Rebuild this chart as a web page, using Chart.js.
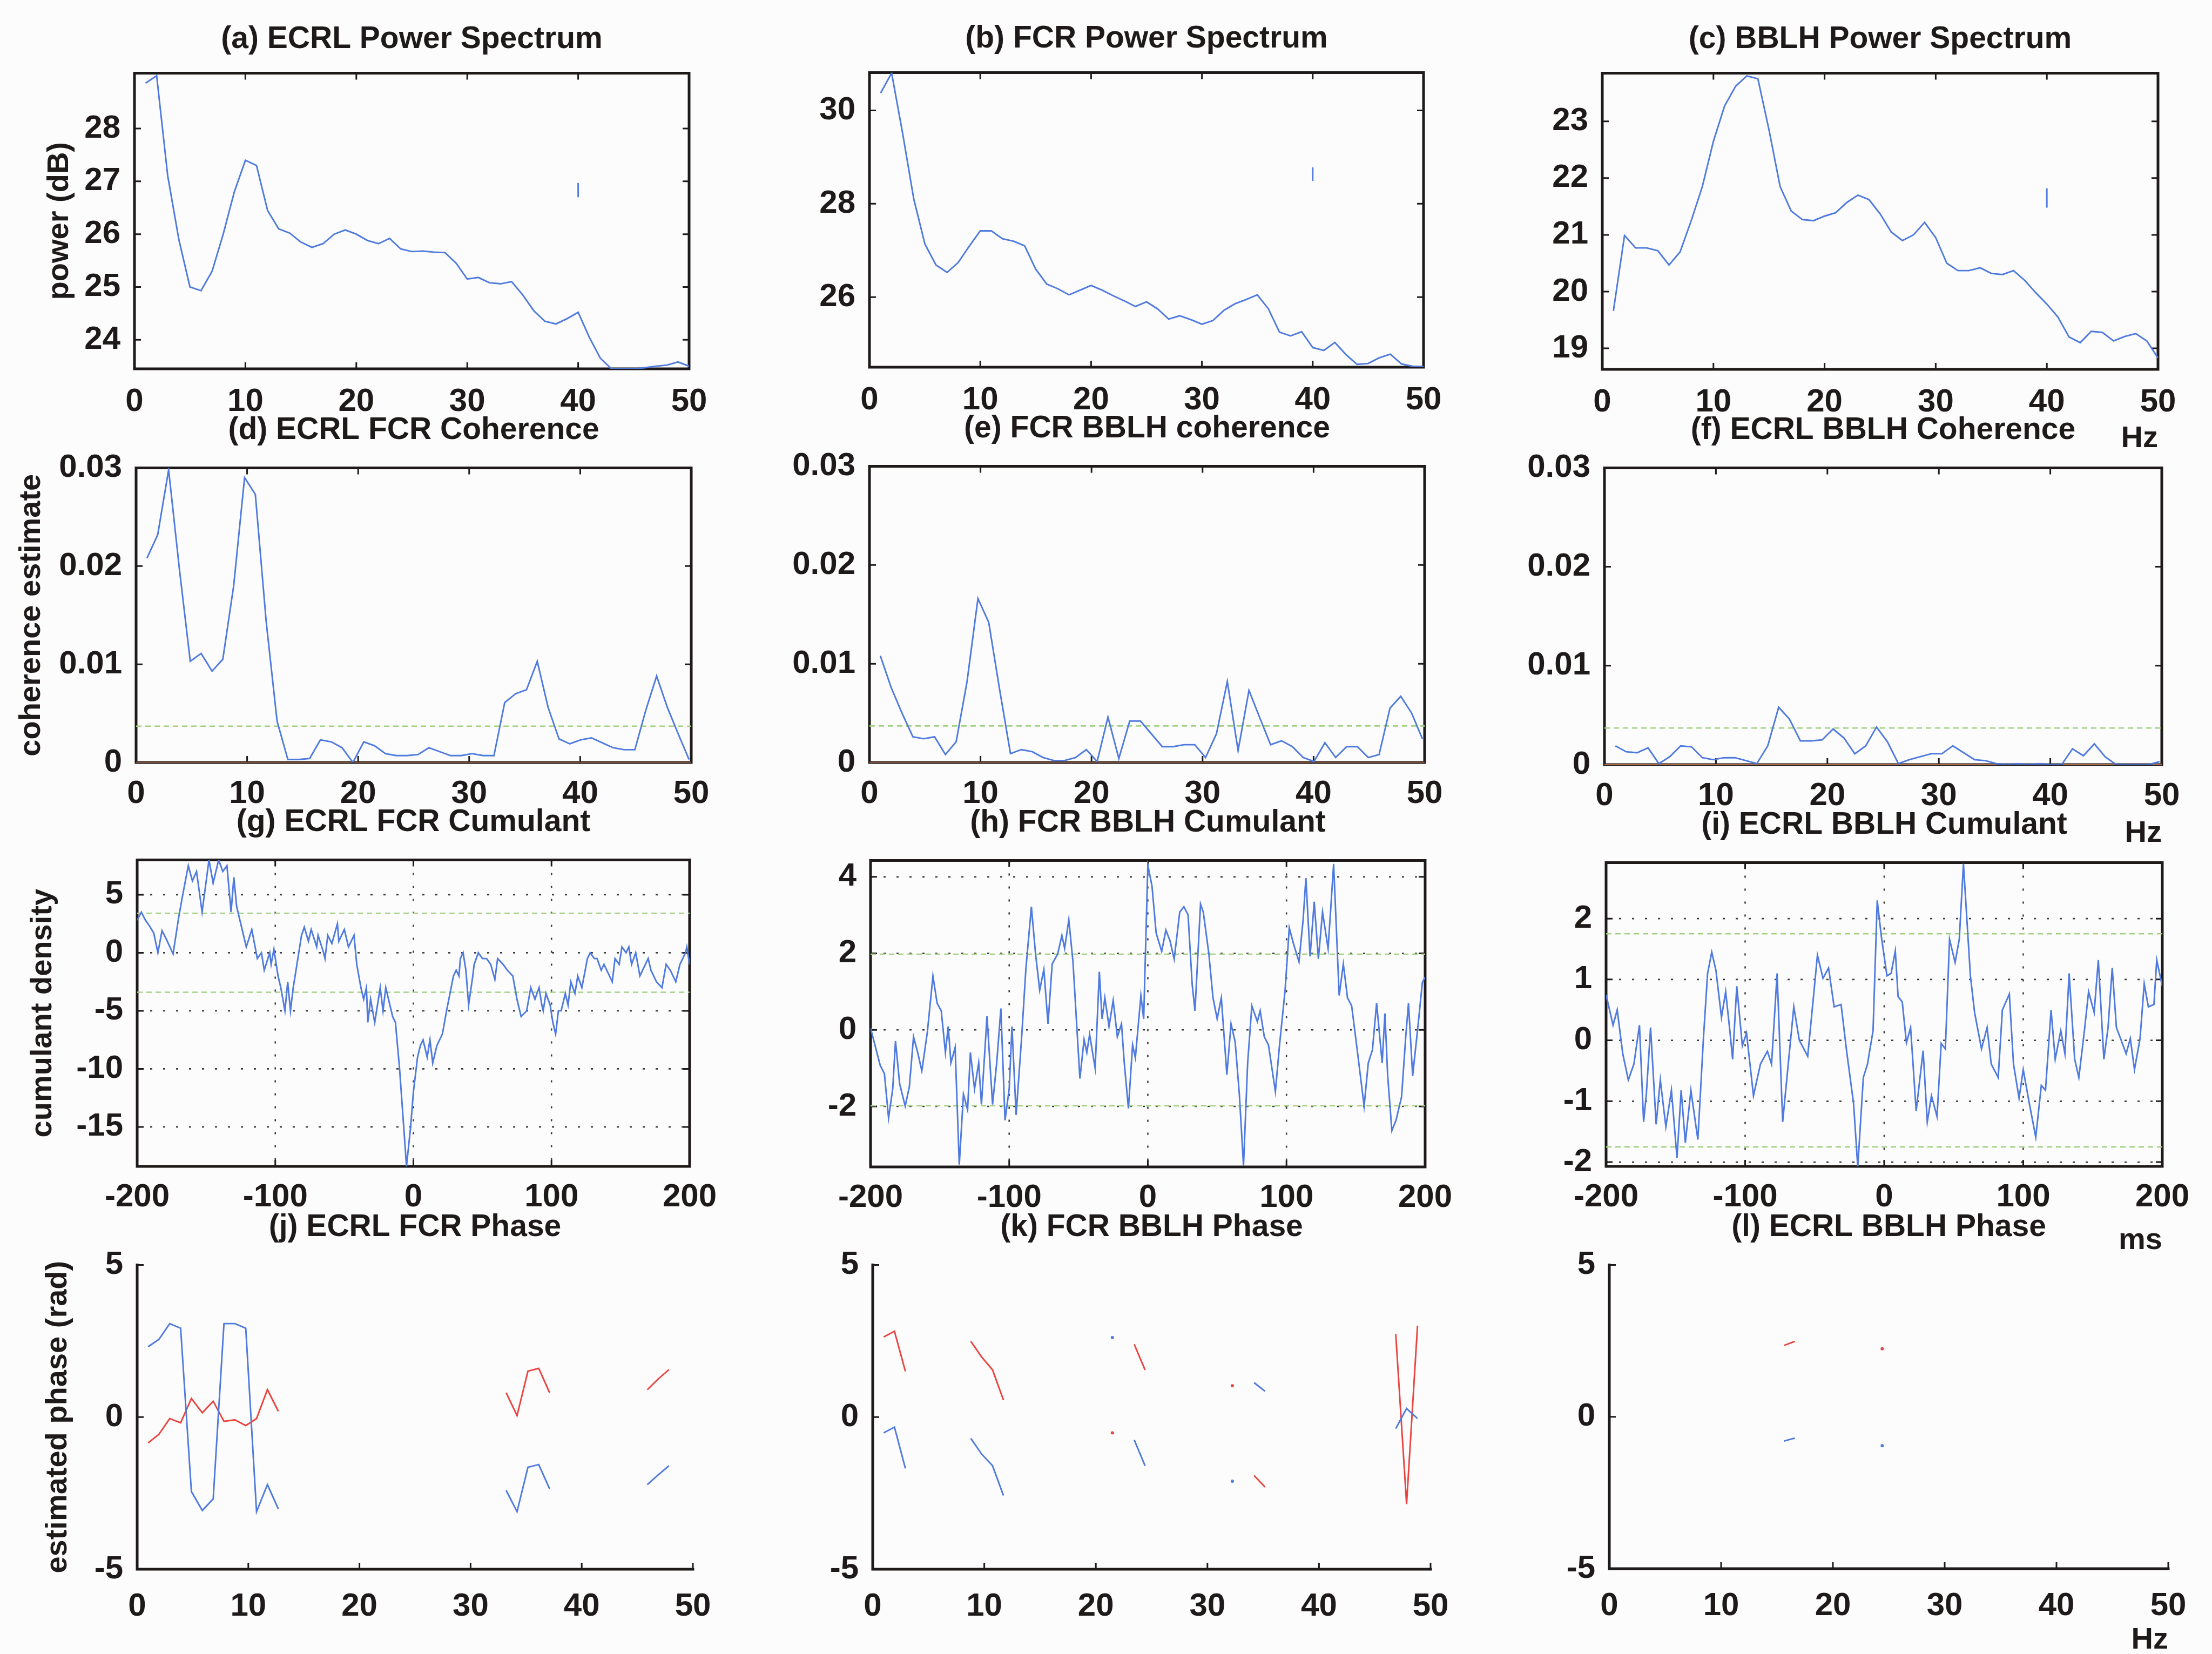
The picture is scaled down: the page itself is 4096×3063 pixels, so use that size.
<!DOCTYPE html>
<html>
<head>
<meta charset="utf-8">
<script src="https://cdn.jsdelivr.net/npm/chart.js@4.4.1/dist/chart.umd.min.js"></script>
<style>
html, body { margin: 0; padding: 0; background: #fcfcfc; }
#page { position: relative; width: 4096px; height: 3063px; overflow: hidden; background: #fcfcfc; }
canvas { position: absolute; }
</style>
</head>
<body>
<div id="page"></div>
<script>
// ---------- data ----------
const _ = null;

// spectra, 1 Hz steps
const specHz = [1,2,3,4,5,6,7,8,9,10,11,12,13,14,15,16,17,18,19,20,21,22,23,24,25,26,27,28,29,30,
                31,32,33,34,35,36,37,38,39,40,41,42,43,44,45,46,47,48,49,50];
const aPower = [28.86,29.0,27.1,25.9,25.0,24.93,25.3,26.0,26.8,27.4,27.3,26.45,26.1,26.02,25.85,25.75,25.82,26.0,26.08,26.0,
                25.88,25.82,25.92,25.72,25.67,25.68,25.66,25.65,25.45,25.15,25.18,25.08,25.06,25.1,24.85,24.55,24.35,24.3,24.4,24.52,
                24.05,23.65,23.45,23.45,23.45,23.47,23.5,23.52,23.58,23.5];
const bPower = [30.37,30.8,29.5,28.1,27.14,26.69,26.53,26.74,27.09,27.42,27.42,27.25,27.2,27.1,26.6,26.28,26.18,26.05,26.15,26.25,
                26.15,26.03,25.92,25.8,25.9,25.75,25.53,25.6,25.52,25.42,25.5,25.72,25.86,25.95,26.05,25.75,25.25,25.17,25.26,24.92,
                24.86,25.03,24.77,24.56,24.58,24.7,24.78,24.57,24.52,24.51];
const cPower = [19.66,20.99,20.77,20.77,20.72,20.47,20.7,21.25,21.85,22.65,23.27,23.62,23.8,23.75,22.85,21.85,21.42,21.27,21.25,21.33,
                21.39,21.57,21.7,21.62,21.37,21.05,20.9,21.0,21.22,20.95,20.5,20.37,20.37,20.42,20.32,20.3,20.37,20.2,19.98,19.78,
                19.55,19.2,19.1,19.3,19.28,19.13,19.21,19.26,19.13,18.83];
// small confidence markers at 40 Hz
const markHz = [40, 40];
const aMark = [26.7, 26.97];
const bMark = [28.49, 28.78];
const cMark = [21.48, 21.82];

// coherence and phase, frequency bins
const binHz = [0.98,1.95,2.93,3.91,4.88,5.86,6.84,7.81,8.79,9.77,10.74,11.72,12.70,13.67,14.65,15.63,16.60,17.58,18.55,19.53,
               20.51,21.48,22.46,23.44,24.41,25.39,26.37,27.34,28.32,29.30,30.27,31.25,32.23,33.20,34.18,35.16,36.13,37.11,38.09,39.06,
               40.04,41.02,41.99,42.97,43.95,44.92,45.90,46.88,47.85,48.83,49.80];
const dCoh = [0.0208,0.0232,0.0298,0.0196,0.0103,0.0111,0.0093,0.0105,0.0180,0.0290,0.0273,0.0143,0.0042,0.0003,0.0003,0.0004,0.0023,0.0021,0.0015,0.0000,
              0.0021,0.0017,0.0009,0.0007,0.0007,0.0008,0.0015,0.0011,0.0007,0.0007,0.0009,0.0007,0.0007,0.0061,0.0070,0.0074,0.0103,0.0056,0.0024,0.0019,
              0.0023,0.0025,0.0020,0.0015,0.0013,0.0013,0.0053,0.0088,0.0056,0.0029,0.0003];
const eCoh = [0.0108,0.0076,0.0050,0.0026,0.0024,0.0026,0.0008,0.0021,0.0082,0.0166,0.0142,0.0074,0.0009,0.0013,0.0011,0.0005,0.0002,0.0002,0.0005,0.0013,
              0.0001,0.0046,0.0004,0.0042,0.0042,0.0029,0.0016,0.0016,0.0018,0.0018,0.0005,0.0029,0.0082,0.0012,0.0073,0.0045,0.0018,0.0022,0.0016,0.0005,
              0.0001,0.0020,0.0005,0.0016,0.0016,0.0005,0.0008,0.0055,0.0067,0.0050,0.0024];
const fCoh = [0.0019,0.0013,0.0012,0.0017,0.0001,0.0008,0.0019,0.0018,0.0007,0.0005,0.0007,0.0007,0.0004,0.0001,0.0019,0.0058,0.0046,0.0024,0.0024,0.0025,
              0.0036,0.0027,0.0011,0.0019,0.0038,0.0023,0.0001,0.0005,0.0008,0.0011,0.0011,0.0019,0.0012,0.0005,0.0004,0.0001,0.0000,0.0001,0.0000,0.0001,
              0.0000,0.0000,0.0016,0.0009,0.0021,0.0008,0.0000,0.0000,0.0000,0.0000,0.0003];
const cohCI = 0.0037;
const cohZero = 0;

const jBlue = [2.31,2.55,3.07,2.92,-2.45,-3.07,-2.69,3.07,3.07,2.92,-3.11,-2.22,-3.02,_,_,_,_,_,_,_,
               _,_,_,_,_,_,_,_,_,_,_,_,_,-2.41,-3.11,-1.65,-1.56,-2.36,_,_,
               _,_,_,_,_,_,-2.22,-1.9,-1.6,_,_];
const jRed  = [-0.85,-0.57,-0.05,-0.19,0.61,0.14,0.52,-0.14,-0.09,-0.28,-0.05,0.9,0.19,_,_,_,_,_,_,_,
               _,_,_,_,_,_,_,_,_,_,_,_,_,0.8,0.05,1.51,1.6,0.8,_,_,
               _,_,_,_,_,_,0.9,1.25,1.56,_,_];
const kRed  = [2.63,2.82,1.5,_,_,_,_,_,2.49,1.97,1.55,0.56,_,_,_,_,_,_,_,_,
               _,-0.52,_,2.39,1.55,_,_,_,_,_,_,_,1.03,_,-1.92,-2.3,_,_,_,_,
               _,_,_,_,_,_,_,2.72,-2.86,3.0,_];
const kBlue = [-0.52,-0.33,-1.69,_,_,_,_,_,-0.7,-1.22,-1.6,-2.58,_,_,_,_,_,_,_,_,
               _,2.61,_,-0.75,-1.6,_,_,_,_,_,_,_,-2.11,_,1.13,0.85,_,_,_,_,
               _,_,_,_,_,_,_,-0.38,0.28,-0.05,_];
const lRed  = [_,_,_,_,_,_,_,_,_,_,_,_,_,_,_,2.35,2.48,_,_,_,
               _,_,_,_,2.24,_,_,_,_,_,_,_,_,_,_,_,_,_,_,_,
               _,_,_,_,_,_,_,_,_,_,_];
const lBlue = [_,_,_,_,_,_,_,_,_,_,_,_,_,_,_,-0.8,-0.7,_,_,_,
               _,_,_,_,-0.95,_,_,_,_,_,_,_,_,_,_,_,_,_,_,_,
               _,_,_,_,_,_,_,_,_,_,_];

// cumulant densities, lag in ms
const gLag = [-200,-197,-194,-191,-188,-185,-182,-179,-174,-170,-167,-163,-160,-157,-153,-148,-145,-141,-138,-135,
              -132,-130,-128,-124,-121,-117,-113,-110,-108,-104,-103,-101,-98,-96,-93,-91,-89,-87,-83,-81,
              -79,-76,-74,-70,-69,-65,-64,-62,-59,-55,-54,-50,-47,-43,-41,-38,-36,-34,-33,-31,
              -28,-26,-24,-22,-20,-15,-13,-10,-7,-5,-2,0,3,5,7,10,12,14,17,21,
              24,29,31,33,34,36,38,40,43,44,47,50,53,56,59,61,65,68,72,75,
              78,82,85,88,91,93,94,96,99,101,103,105,107,110,112,114,117,119,122,126,
              128,131,133,136,138,144,146,149,151,154,156,158,161,164,166,170,172,176,180,183,
              186,190,193,197,198,200];
const gVal = [2.8,3.5,2.8,2.3,1.7,0.0,1.9,1.2,-0.1,3.0,5.0,7.5,6.2,7.0,3.5,8.0,6.0,8.0,7.0,7.5,
              3.5,6.5,4.0,2.0,0.5,2.0,-0.5,0.0,-1.5,0.0,-1.0,0.3,-2.0,-3.0,-5.0,-2.5,-5.0,-3.0,0.0,1.5,
              2.2,1.0,2.0,0.5,1.5,0.0,-0.5,1.5,0.8,2.5,1.0,2.0,0.5,1.5,-1.0,-3.0,-4.0,-3.0,-6.0,-4.0,
              -6.0,-4.5,-3.0,-5.0,-3.0,-5.5,-6.0,-10.0,-15.0,-18.4,-15.0,-12.0,-9.0,-8.0,-7.5,-9.0,-7.5,-9.5,-8.0,-7.0,
              -5.0,-2.0,-1.5,-2.0,-0.5,0.0,-1.5,-4.5,-2.0,-1.0,0.0,-0.5,-0.5,-1.0,-2.3,-0.5,-1.0,-1.5,-2.0,-4.0,
              -5.5,-5.0,-3.0,-4.0,-3.0,-4.5,-5.0,-3.5,-4.5,-6.0,-7.0,-5.0,-5.0,-3.5,-4.5,-2.5,-3.5,-2.0,-3.0,-0.5,
              0.0,-0.5,-0.5,-1.5,-1.0,-2.5,-0.5,-1.0,0.5,0.0,0.5,-1.0,0.0,-2.0,-1.5,-0.5,-1.5,-2.5,-3.0,-1.0,
              -1.5,-2.5,-1.0,0.0,0.5,-1.0];
const hLag = [-200,-193,-190,-187,-184,-182,-179,-175,-172,-169,-166,-163,-159,-155,-152,-149,-146,-144,-142,-139,
              -136,-133,-130,-128,-125,-122,-120,-116,-112,-109,-106,-103,-100,-98,-95,-91,-88,-84,-81,-78,
              -75,-72,-69,-65,-62,-60,-57,-54,-49,-46,-44,-42,-38,-35,-33,-31,-28,-25,-22,-19,
              -17,-14,-11,-9,-5,-3,0,3,6,10,13,16,19,23,26,29,32,34,38,40,
              44,47,50,53,57,60,63,66,69,72,75,79,81,84,87,92,95,99,102,105,
              109,112,114,117,120,123,126,130,132,134,138,141,144,147,151,156,159,162,165,169,
              171,173,176,179,183,186,188,191,195,198,200];
const hVal = [0.05,-0.93,-1.14,-2.3,-1.54,-0.29,-1.41,-1.99,-1.48,-0.18,-0.59,-1.07,-0.05,1.41,0.7,0.5,-0.59,0.09,-0.86,-0.46,
              -3.52,-1.68,-2.09,-0.59,-1.54,-0.86,-1.95,0.36,-1.95,-0.86,0.56,-2.36,-1.54,0.09,-2.22,-0.18,1.58,3.22,1.99,1.04,
              1.58,0.16,1.72,1.99,2.47,2.13,2.88,1.78,-1.27,-0.25,-0.59,-0.12,-1.0,1.52,0.29,0.84,0.09,0.77,-0.18,0.16,
              -0.86,-2.05,-0.39,-0.73,0.9,0.29,4.31,3.76,2.53,2.05,2.61,2.33,1.85,3.08,3.22,3.01,1.18,0.5,3.29,3.08,
              1.99,0.84,0.29,0.84,-1.17,0.16,-0.32,-1.68,-3.55,-0.86,0.63,0.22,0.5,-0.18,-0.39,-1.61,-0.39,1.04,2.67,2.26,
              1.78,2.88,3.97,1.92,3.35,1.86,3.08,2.13,3.22,4.34,0.9,1.72,0.84,0.63,-0.52,-1.99,-0.86,-0.52,0.7,-0.86,
              0.43,-1.2,-2.63,-2.36,-1.75,-0.18,0.7,-1.2,0.16,1.24,1.38];
const iLag = [-200,-195,-192,-188,-184,-180,-176,-173,-171,-168,-164,-161,-157,-153,-149,-146,-143,-139,-134,-130,
              -127,-124,-121,-117,-114,-111,-109,-106,-102,-99,-94,-89,-84,-81,-77,-73,-69,-65,-61,-55,
              -51,-48,-44,-40,-36,-31,-27,-22,-19,-15,-12,-8,-5,-2,2,5,8,10,13,16,
              19,23,28,31,34,38,41,44,47,51,54,57,62,65,70,74,77,82,85,90,
              93,97,100,104,109,113,116,120,123,127,130,133,137,140,144,147,151,154,158,161,
              164,167,170,174,177,180,184,187,190,194,196,200];
const iVal = [0.75,0.25,0.5,-0.22,-0.65,-0.39,0.25,-1.34,-0.87,0.21,-1.38,-0.65,-1.42,-0.82,-1.93,-0.82,-1.68,-0.82,-1.63,0.03,
              1.1,1.45,1.15,0.38,0.8,0.16,-0.31,0.89,-0.09,0.12,-0.91,-0.39,-0.18,-0.39,1.1,-1.34,-0.39,0.55,0.0,-0.26,
              0.68,1.4,1.02,1.19,0.55,0.59,-0.18,-1.04,-2.08,-0.61,-0.39,0.16,2.3,1.7,1.06,1.1,1.47,0.72,0.63,-0.04,
              0.21,-1.16,-0.17,-1.34,-0.91,-1.25,-0.05,-0.14,1.66,1.28,1.66,2.9,1.06,0.46,-0.14,0.21,-0.39,-0.61,0.5,0.76,
              -0.39,-0.95,-0.48,-0.99,-1.59,-0.74,-0.82,0.5,-0.31,0.16,-0.22,1.1,-0.31,-0.61,0.16,0.8,0.46,1.32,-0.31,0.21,
              1.19,0.21,0.03,-0.22,0.03,-0.48,0.03,0.93,0.55,0.59,1.32,0.89];
const cumCI = { g: 3.4, h: 1.98, i: 1.75 };

// tick labels
const hzTicks = [0, 10, 20, 30, 40, 50];
const lagTicks = [-200, -100, 0, 100, 200];
const cohTicks = [0, 0.01, 0.02, 0.03];
const phaseTicks = [-5, 0, 5];

// ---------- look ----------
const S = 0.84;
const FONT = "'Liberation Sans', Arial, Helvetica, sans-serif";
const INK = '#1f1a1a';
const BLUE = '#4f7ade';
const RED = '#e9443f';
const GREEN = '#a3d184';
const ORANGE = '#d98a5c';
const RR = 60, BB = 200;
const titlePadB = [28, 35, 35, 35];
const xTickPad = [17, 14, 13, 25];

function pts(xs, ys) { return xs.map((x, i) => ({ x: x, y: ys[i] })); }
function isolated(c) {
  const d = c.dataset.data, i = c.dataIndex;
  if (!d[i] || d[i].y == null) return 0;
  const p = d[i - 1], n = d[i + 1];
  return (!p || p.y == null) && (!n || n.y == null) ? 3 : 0;
}
function line(data, color, extra) {
  return Object.assign({ data: data, borderColor: color, backgroundColor: color, borderWidth: 2.9,
    pointRadius: isolated, pointBorderWidth: 0, pointBackgroundColor: color, tension: 0, spanGaps: false }, extra || {});
}
function flat(v, x0, x1, color, dash) {
  return line([{ x: x0, y: v }, { x: x1, y: v }], color, { borderDash: dash, borderWidth: 2.6, pointRadius: 0 });
}

// box, inward ticks and dotted grid, drawn under the data as in the original
const frame = {
  id: 'frame',
  beforeDatasetsDraw(chart, args, o) {
    const { ctx, chartArea: a, scales: { x, y } } = chart;
    ctx.save();
    if (o.grid) {
      ctx.strokeStyle = '#3c3c3c'; ctx.lineWidth = 2.6; ctx.setLineDash([4, 20]);
      ctx.beginPath();
      x.ticks.forEach(t => { const px = x.getPixelForValue(t.value); if (px > a.left + 3 && px < a.right - 3) { ctx.moveTo(px, a.top); ctx.lineTo(px, a.bottom); } });
      y.ticks.forEach(t => { const py = y.getPixelForValue(t.value); if (py > a.top + 3 && py < a.bottom - 3) { ctx.moveTo(a.left, py); ctx.lineTo(a.right, py); } });
      ctx.stroke();
      ctx.setLineDash([]);
    }
    ctx.strokeStyle = INK; ctx.lineWidth = 5; ctx.lineCap = 'square';
    ctx.beginPath();
    if (o.box) ctx.rect(a.left, a.top, a.width, a.height);
    else { ctx.moveTo(a.left, a.top); ctx.lineTo(a.left, a.bottom); ctx.lineTo(a.right, a.bottom); }
    ctx.stroke();
    const TL = 12;
    ctx.lineWidth = 3; ctx.lineCap = 'butt';
    ctx.beginPath();
    x.ticks.forEach(t => {
      const px = x.getPixelForValue(t.value);
      if (o.box && (px <= a.left + 2 || px >= a.right - 2)) return;
      ctx.moveTo(px, a.bottom); ctx.lineTo(px, a.bottom - TL);
      if (o.box) { ctx.moveTo(px, a.top); ctx.lineTo(px, a.top + TL); }
    });
    y.ticks.forEach(t => {
      const py = y.getPixelForValue(t.value);
      if (o.box && (py <= a.top + 2 || py >= a.bottom - 2)) return;
      ctx.moveTo(a.left, py); ctx.lineTo(a.left + TL, py);
      if (o.box) { ctx.moveTo(a.right, py); ctx.lineTo(a.right - TL, py); }
    });
    ctx.stroke();
    ctx.restore();
  }
};
Chart.register(frame);

const hz = { xr: [0, 50], xt: hzTicks };
const lag = { xr: [-200, 200], xt: lagTicks };

const panels = [
  Object.assign({ row: 0, col: 0, box: [297, 161, 1519, 813], title: '(a) ECRL Power Spectrum', ylabel: 'power (dB)', ylabPad: 77,
    kind: 'spec', yr: [23.45, 29.05], yt: [24, 25, 26, 27, 28],
    sets: [line(pts(specHz, aPower), BLUE), line(pts(markHz, aMark), BLUE, { pointRadius: 0 })] }, hz),
  Object.assign({ row: 0, col: 1, box: [1917, 159, 3138, 810], title: '(b) FCR Power Spectrum',
    kind: 'spec', yr: [24.5, 30.81], yt: [26, 28, 30],
    sets: [line(pts(specHz, bPower), BLUE), line(pts(markHz, bMark), BLUE, { pointRadius: 0 })] }, hz),
  Object.assign({ row: 0, col: 2, box: [3532, 161, 4757, 814], title: '(c) BBLH Power Spectrum', xlabel: 'Hz', xlabPad: 38,
    kind: 'spec', yr: [18.63, 23.85], yt: [19, 20, 21, 22, 23],
    sets: [line(pts(specHz, cPower), BLUE), line(pts(markHz, cMark), BLUE, { pointRadius: 0 })] }, hz),

  Object.assign({ row: 1, col: 0, box: [300, 1031, 1524, 1681], title: '(d) ECRL FCR Coherence', ylabel: 'coherence estimate', ylabPad: 25,
    kind: 'coh', yr: [0, 0.03], yt: cohTicks,
    sets: [line(pts(binHz, dCoh), BLUE), flat(cohCI, 0, 50, GREEN, [10, 7]), flat(cohZero, 0, 50, ORANGE, [])] }, hz),
  Object.assign({ row: 1, col: 1, box: [1917, 1027, 3141, 1681], title: '(e) FCR BBLH coherence',
    kind: 'coh', yr: [0, 0.03], yt: cohTicks,
    sets: [line(pts(binHz, eCoh), BLUE), flat(cohCI, 0, 50, GREEN, [10, 7]), flat(cohZero, 0, 50, ORANGE, [])] }, hz),
  Object.assign({ row: 1, col: 2, box: [3537, 1031, 4765, 1686], title: '(f) ECRL BBLH Coherence', xlabel: 'Hz', xlabPad: 39,
    kind: 'coh', yr: [0, 0.03], yt: cohTicks,
    sets: [line(pts(binHz, fCoh), BLUE), flat(cohCI, 0, 50, GREEN, [10, 7]), flat(cohZero, 0, 50, ORANGE, [])] }, hz),

  Object.assign({ row: 2, col: 0, box: [302, 1895, 1524, 2571], title: '(g) ECRL FCR Cumulant', ylabel: 'cumulant density', ylabPad: 46,
    kind: 'cum', yr: [-18.4, 8], yt: [-15, -10, -5, 0, 5],
    sets: [line(pts(gLag, gVal), BLUE), flat(cumCI.g, -200, 200, GREEN, [10, 7]), flat(-cumCI.g, -200, 200, GREEN, [10, 7])] }, lag),
  Object.assign({ row: 2, col: 1, box: [1919, 1896, 3145, 2573], title: '(h) FCR BBLH Cumulant',
    kind: 'cum', yr: [-3.58, 4.43], yt: [-2, 0, 2, 4],
    sets: [line(pts(hLag, hVal), BLUE), flat(cumCI.h, -200, 200, GREEN, [10, 7]), flat(-cumCI.h, -200, 200, GREEN, [10, 7])] }, lag),
  Object.assign({ row: 2, col: 2, box: [3540, 1901, 4770, 2571], title: '(i) ECRL BBLH Cumulant', xlabel: 'ms', xlabPad: 29,
    kind: 'cum', yr: [-2.07, 2.92], yt: [-2, -1, 0, 1, 2],
    sets: [line(pts(iLag, iVal), BLUE), flat(cumCI.i, -200, 200, GREEN, [10, 7]), flat(-cumCI.i, -200, 200, GREEN, [10, 7])] }, lag),

  Object.assign({ row: 3, col: 0, box: [302, 2788, 1527, 3460], title: '(j) ECRL FCR Phase', ylabel: 'estimated phase (rad)', ylabPad: 74,
    kind: 'phase', yr: [-5, 5], yt: phaseTicks,
    sets: [line(pts(binHz, jBlue), BLUE), line(pts(binHz, jRed), RED)] }, hz),
  Object.assign({ row: 3, col: 1, box: [1924, 2788, 3153, 3460], title: '(k) FCR BBLH Phase',
    kind: 'phase', yr: [-5, 5], yt: phaseTicks,
    sets: [line(pts(binHz, kBlue), BLUE), line(pts(binHz, kRed), RED)] }, hz),
  Object.assign({ row: 3, col: 2, box: [3548, 2788, 4780, 3458], title: '(l) ECRL BBLH Phase', xlabel: 'Hz', xlabPad: 34,
    kind: 'phase', yr: [-5, 5], yt: phaseTicks,
    sets: [line(pts(binHz, lBlue), BLUE), line(pts(binHz, lRed), RED)] }, hz)
];

const tickFont = { family: FONT, size: 60, weight: 'bold' };
const labFont = { family: FONT, size: 56, weight: 'bold', lineHeight: 1.2 };
const page = document.getElementById('page');

panels.forEach(p => {
  const L = Math.round(p.box[0] * S), T = Math.round(p.box[1] * S);
  const R = Math.round(p.box[2] * S), B = Math.round(p.box[3] * S);
  const ly = p.col === 0 ? L : 200;
  const tt = 10 + 68 + titlePadB[p.row];
  const cv = document.createElement('canvas');
  cv.width = ly + (R - L) + RR;
  cv.height = tt + (B - T) + BB;
  cv.style.left = (L - ly) + 'px';
  cv.style.top = (T - tt) + 'px';
  page.appendChild(cv);

  new Chart(cv.getContext('2d'), {
    type: 'line',
    data: { datasets: p.sets },
    options: {
      responsive: false,
      animation: false,
      devicePixelRatio: 1,
      layout: { padding: { left: 0, right: RR, top: 0, bottom: 0 } },
      plugins: {
        legend: { display: false },
        tooltip: { enabled: false },
        title: { display: true, text: p.title, fullSize: false, color: INK,
          font: { family: FONT, size: 57, weight: 'bold', lineHeight: 1.2 },
          padding: { top: 10, bottom: titlePadB[p.row] } },
        frame: { box: p.kind !== 'phase', grid: p.kind === 'cum' }
      },
      scales: {
        x: {
          type: 'linear', min: p.xr[0], max: p.xr[1],
          grid: { display: false }, border: { display: false },
          afterBuildTicks: s => { s.ticks = p.xt.map(v => ({ value: v })); },
          afterFit: s => { s.height = BB; },
          ticks: { padding: xTickPad[p.row], color: INK, font: tickFont, maxRotation: 0, autoSkip: false, callback: v => String(v) },
          title: p.xlabel ? { display: true, text: p.xlabel, align: 'end', color: INK, font: labFont, padding: { top: 0, bottom: p.xlabPad } } : { display: false }
        },
        y: {
          type: 'linear', min: p.yr[0], max: p.yr[1],
          grid: { display: false }, border: { display: false },
          afterBuildTicks: s => { s.ticks = p.yt.map(v => ({ value: v })); },
          afterFit: s => { s.width = ly; },
          ticks: { padding: 18, color: INK, font: tickFont, autoSkip: false, callback: v => String(v) },
          title: p.ylabel ? { display: true, text: p.ylabel, color: INK, font: labFont, padding: { top: p.ylabPad, bottom: 0 } } : { display: false }
        }
      }
    }
  });
});
</script>
</body>
</html>
